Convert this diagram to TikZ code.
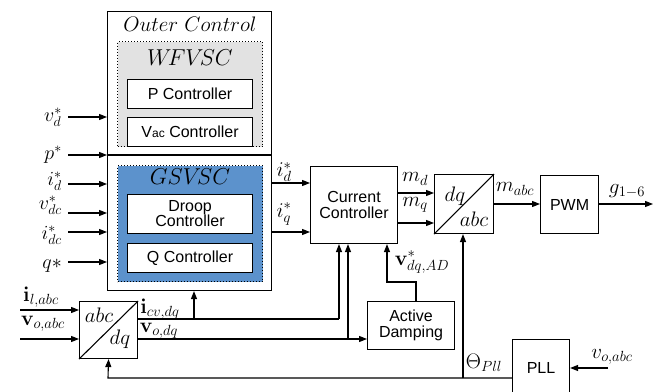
\RequirePackage{fix-cm}
\documentclass[tikz,border=0pt]{standalone}
\usepackage[no-math]{fontspec}
\newfontfamily\lsans{Liberation Sans}
\usetikzlibrary{arrows.meta,calc}
\definecolor{gsblue}{RGB}{92,146,204}
\definecolor{wfgray}{RGB}{226,226,226}
\tikzset{
 box/.style={draw, line width=1.1pt, fill=white, inner sep=0pt, anchor=north west, font=\lsans\fontsize{16}{18}\selectfont, align=center},
 dotbox/.style={draw, dotted, line width=1pt, inner sep=0pt, anchor=north west},
 arr/.style={-{Triangle[length=8pt,width=6pt]}, line width=1.1pt},
 ln/.style={line width=1.1pt},
 lab/.style={font=\fontsize{21}{23}\selectfont, inner sep=0pt},
 inlab/.style={font=\fontsize{20}{22}\selectfont, inner sep=0pt, anchor=east},
 big/.style={font=\fontsize{23}{25}\selectfont, inner sep=0pt},
}
\begin{document}
\begin{tikzpicture}[x=1pt,y=-1pt]
\useasboundingbox (0,0) rectangle (655,391);
% outer control
\node[box, minimum width=164pt, minimum height=279pt] (outer) at (107,11) {};
\coordinate (divl) at (107,155);
\draw[ln] (divl) -- (divl -| outer.east);
\node[lab] (octxt) at (190,24) {$Outer\ Control$};
% WFVSC
\node[dotbox, fill=wfgray, minimum width=145pt, minimum height=105pt] (wf) at (117,41) {};
\node[big] (wftxt) at (190,58) {$W\!FV\!SC$};
\node[box, minimum width=125pt, minimum height=29pt] (pc) at (127,79) {P Controller};
\node[box, minimum width=125pt, minimum height=29pt] (vac) at (127,117) {V{\fontsize{12}{14}\selectfont ac} Controller};
% GSVSC
\node[dotbox, fill=gsblue, minimum width=145pt, minimum height=116pt] (gs) at (117,165) {};
\node[big] (gstxt) at (190,177) {$GSV\!SC$};
\node[box, minimum width=125pt, minimum height=39pt] (droop) at (127,194) {Droop\\[-3pt]Controller};
\node[box, minimum width=125pt, minimum height=29pt] (qc) at (127,243) {Q Controller};
% inputs to outer
\foreach \nm/\yy/\ly/\tx in {vd/117/117/{v_d^*}, p/155/155/{p^*}, id/184/181/{i_d^*}, vdc/213/205/{v_{dc}^*}, idc/232/235/{i_{dc}^*}, q/262/266/{q*}}{
  \coordinate (\nm in) at (68,\yy);
  \draw[arr] (\nm in) -- (\nm in -| outer.west);
  \node[inlab] (\nm lab) at (62,\ly) {$\tx$};
}
% abc/dq
\node[box, minimum width=58pt, minimum height=57pt] (abcdq) at (79,301) {};
\draw[ln] (abcdq.south west) -- (abcdq.north east);
\node[lab] (abct1) at (99,315) {$abc$};
\node[lab] (dqt1) at (120,339) {$dq$};
\coordinate (ilin) at (20,310);
\coordinate (voin) at (20,339);
\draw[arr] (ilin) -- (ilin -| abcdq.west);
\draw[arr] (voin) -- (voin -| abcdq.west);
\node[lab] (illab) at (41,297) {$\mathbf{i}_{l,abc}$};
\node[lab] (volab) at (43,324) {$\mathbf{v}_{o,abc}$};
% current controller
\node[box, minimum width=87pt, minimum height=77pt] (cc) at (310,166) {Current\\[-2pt]Controller};
\coordinate (ido) at (271,183);
\coordinate (iqo) at (271,232);
\draw[arr] (ido) -- (ido -| cc.west);
\draw[arr] (iqo) -- (iqo -| cc.west);
\node[lab] (idolab) at (284,172) {$i_d^*$};
\node[lab] (iqolab) at (284,214) {$i_q^*$};
% active damping
\node[box, minimum width=87pt, minimum height=48pt] (ad) at (367,301) {Active\\[-2pt]Damping};
% dq/abc
\node[box, minimum width=59pt, minimum height=59pt] (dqabc) at (434,174) {};
\draw[ln] (dqabc.south west) -- (dqabc.north east);
\node[lab] (dqt2) at (455,196) {$dq$};
\node[lab] (abct2) at (474,219) {$abc$};
% PWM
\node[box, minimum width=58pt, minimum height=58pt] (pwm) at (540,175) {PWM};
% PLL
\node[box, minimum width=57pt, minimum height=56pt] (pll) at (512,339) {PLL};
% cc -> dqabc
\coordinate (mdo) at (397,193);
\coordinate (mqo) at (397,223);
\draw[arr] (mdo) -- (mdo -| dqabc.west);
\draw[arr] (mqo) -- (mqo -| dqabc.west);
\node[lab] (mdlab) at (415,179) {$m_d$};
\node[lab] (mqlab) at (415,205) {$m_q$};
\coordinate (mao) at (493,204);
\draw[arr] (mao) -- (mao -| pwm.west);
\node[lab] (malab) at (515,189) {$m_{abc}$};
\coordinate (gend) at (653,204);
\draw[arr] (pwm.east |- gend) -- (gend);
\node[lab] (glab) at (627,191) {$g_{1-6}$};
% bottom signals
\coordinate (icvs) at (137,319);
\coordinate (icvj) at (194,319);
\coordinate (icve) at (339,319);
\draw[ln] (icvs) -- (icve);
\draw[arr] (icve) -- (icve |- cc.south);
\draw[arr] (icvj) -- (icvj |- outer.south);
\node[lab] (icvlab) at (160,309) {$\mathbf{i}_{cv,dq}$};
\coordinate (vods) at (137,339);
\coordinate (vodj) at (348,339);
\draw[arr] (vods) -- (vods -| ad.west);
\draw[arr] (vodj) -- (vodj |- cc.south);
\node[lab] (vodlab) at (159,331) {$\mathbf{v}_{o,dq}$};
\coordinate (adk) at (416,282);
\coordinate (adc) at (387,282);
\draw[arr] (ad.north -| adk) -- (adk) -- (adc) -- (adc |- cc.south);
\node[lab] (adlab) at (422,262) {$\mathbf{v}_{dq,AD}^*$};
% theta
\coordinate (thl) at (108,378);
\coordinate (thj) at (463,378);
\draw[arr] (pll.west |- thl) -- (thl) -- (abcdq.south);
\draw[arr] (thj) -- (thj |- dqabc.south);
\node[lab] (thlab) at (484,363) {$\Theta_{Pll}$};
\coordinate (pllin) at (608,368);
\draw[arr] (pllin) -- (pllin -| pll.east);
\node[lab] (plllab) at (612,357) {$v_{o,abc}$};
\end{tikzpicture}
\end{document}
